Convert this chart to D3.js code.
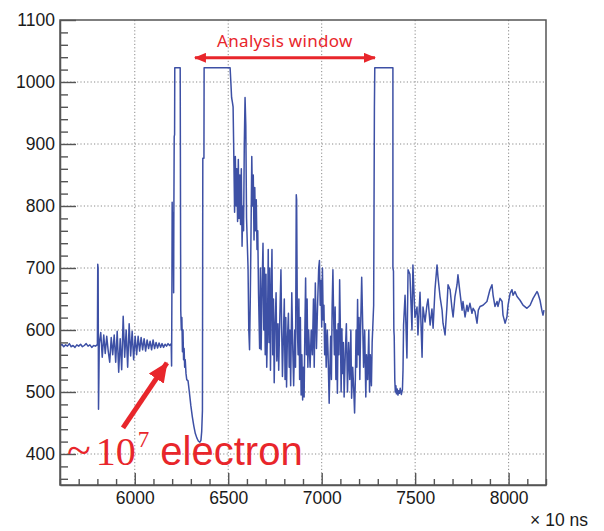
<!DOCTYPE html>
<html>
<head>
<meta charset="utf-8">
<script src="https://cdn.jsdelivr.net/npm/d3@7"></script>
<style>
  body { margin: 0; background: #fff; }
</style>
</head>
<body>
<svg id="chart"></svg>
<script>
// waveform, time in units of 10 ns, amplitude in ADC counts
var baseline = [[5600,574],[5610,577],[5620,573],[5630,576],[5640,574],[5650,578],[5660,573],[5670,575],
  [5680,572],[5690,576],[5700,574],[5710,577],[5720,573],[5730,575],[5740,578],[5750,574],[5760,576],
  [5770,572],[5780,575],[5790,574],[5798,576],[5800,576],[5802,706],[5804,700],[5806,472],[5808,520]];

var preTrigger = [[5810,578],[5818,596],[5826,556],[5834,592],[5842,562],[5850,590],[5858,566],[5866,548],
  [5874,588],[5882,560],[5890,592],[5898,548],[5906,598],[5914,532],[5922,586],[5930,536],[5938,622],
  [5946,556],[5954,600],[5962,540],[5970,610],[5978,558],[5986,598],[5994,552],[6002,590],[6010,560],
  [6018,590],[6026,566],[6034,588],[6042,568],[6050,586],[6058,566],[6066,584],[6074,570],[6082,582],
  [6090,568],[6098,584],[6106,570],[6114,580],[6122,571],[6130,579],[6138,572],[6146,578],[6154,572],
  [6162,577],[6170,574],[6178,578],[6186,575],[6190,576]];

var trigger = [[6195,578],[6197,542],[6199,690],[6200,806],[6202,740],[6203,790],[6205,700],[6206,760],
  [6208,660],[6209,780],[6211,912],[6213,915],[6214,1023],[6243,1023],[6246,632],[6249,600],[6252,620],
  [6255,565],[6258,600],[6261,552],[6264,570],[6267,540],[6270,552],[6274,530],[6278,520],[6285,518],
  [6292,500],[6300,478],[6308,460],[6316,445],[6324,433],[6332,426],[6340,421],[6348,419],[6354,422],
  [6358,436],[6362,470],[6364,877],[6370,877],[6371,1023],[6510,1023]];

var windowPart = [[6514,1000],[6518,975],[6522,968],[6526,960],[6530,880],[6534,790],[6538,880],[6542,800],
  [6546,860],[6550,775],[6554,875],[6558,780],[6562,850],[6566,770],[6570,860],[6574,735],[6578,800],
  [6582,760],[6586,900],[6590,975],[6594,930],[6598,780],[6602,740],[6606,700],[6610,600],[6614,568],
  [6618,650],[6622,760],[6626,880],[6630,800],[6634,850],[6638,745],[6642,830],[6646,760],[6650,810],
  [6654,730],[6658,760],[6662,660],[6668,570],[6672,700],[6676,568],[6680,650],[6686,740],[6690,600],
  [6694,700],[6698,560],[6702,690],[6706,540],[6710,600],[6714,730],[6718,580],[6722,700],[6726,535],
  [6730,660],[6734,730],[6738,560],[6742,650],[6746,515],[6750,600],[6756,660],[6760,550],[6766,610],
  [6770,535],[6776,620],[6782,697],[6786,600],[6790,525],[6796,600],[6800,650],[6804,520],[6808,620],
  [6812,508],[6816,580],[6822,627],[6826,540],[6830,600],[6834,510],[6840,660],[6846,560],[6850,510],
  [6856,600],[6860,540],[6864,818],[6866,810],[6870,600],[6874,560],[6878,650],[6882,520],[6886,620],
  [6890,495],[6894,560],[6898,487],[6902,540],[6906,492],[6910,600],[6914,684],[6918,560],[6922,650],
  [6926,540],[6930,600],[6934,570],[6938,540],[6944,600],[6950,560],[6956,650],[6960,540],[6966,676],
  [6972,570],[6978,640],[6984,700],[6988,712],[6992,640],[6996,680],[7000,605],[7004,700],[7008,616],
  [7012,640],[7016,560],[7020,610],[7024,540],[7030,600],[7034,563],[7040,482],[7044,540],[7048,590],
  [7052,520],[7056,640],[7060,697],[7064,620],[7068,560],[7072,637],[7076,520],[7080,600],[7084,498],
  [7088,610],[7092,560],[7096,681],[7100,600],[7104,500],[7108,602],[7112,530],[7116,580],[7120,492],
  [7126,560],[7132,610],[7138,500],[7144,580],[7150,520],[7156,600],[7160,490],[7166,540],[7172,500],
  [7176,466],[7180,520],[7184,600],[7188,540],[7192,649],[7196,560],[7200,620],[7204,520],[7208,600],
  [7214,685],[7220,600],[7224,540],[7230,600],[7236,492],[7240,560],[7246,520],[7252,600],[7256,500],
  [7260,560],[7266,510],[7270,580],[7274,610],[7278,640],[7282,960],[7284,1023],[7381,1023]];

var tail = [[7381,700],[7384,695],[7386,600],[7388,590],[7391,520],[7394,500],[7397,510],[7400,497],
  [7404,505],[7408,495],[7412,502],[7416,498],[7420,506],[7426,496],[7432,504],[7435,535],[7438,608],
  [7446,656],[7456,555],[7462,697],[7472,690],[7483,600],[7488,705],[7499,620],[7510,637],[7515,592],
  [7526,661],[7537,556],[7542,637],[7553,613],[7563,640],[7569,650],[7580,608],[7590,634],[7596,603],
  [7606,665],[7617,705],[7622,686],[7633,654],[7644,632],[7649,611],[7660,592],[7670,638],[7676,673],
  [7687,665],[7697,635],[7703,621],[7713,654],[7724,673],[7729,689],[7740,660],[7751,632],[7756,646],
  [7767,621],[7777,640],[7783,630],[7793,643],[7804,627],[7810,635],[7820,630],[7831,611],[7838,632],
  [7847,638],[7863,640],[7884,646],[7900,665],[7911,673],[7917,656],[7927,638],[7938,646],[7943,638],
  [7954,651],[7965,646],[7970,624],[7981,611],[7991,621],[7997,640],[8008,659],[8018,665],[8024,656],
  [8034,662],[8045,654],[8061,648],[8077,640],[8098,635],[8115,640],[8131,651],[8152,662],[8157,659],
  [8168,648],[8179,630],[8184,624],[8189,632]];

var xMajor = [6000, 6500, 7000, 7500, 8000];
var yMajor = [400, 500, 600, 700, 800, 900, 1000, 1100];
var xUnit = "\u00d7 10 ns";
var windowLabel = "Analysis window";

var waveform = baseline.concat(preTrigger, trigger, windowPart, tail);

var width = 604, height = 531;
var plot = {left: 60, right: 546, top: 20, bottom: 485};
var font = "'Liberation Sans', Arial, Helvetica, sans-serif";
var serif = "'Liberation Serif', 'Times New Roman', serif";
var red = "#e8262b";

var svg = d3.select("#chart")
  .attr("width", width)
  .attr("height", height);

var x = d3.scaleLinear().domain([5600, 8200]).range([plot.left, plot.right]);
var y = d3.scaleLinear().domain([350, 1100]).range([plot.bottom, plot.top]);

var xMinor = d3.range(5600, 8201, 100).filter(d => xMajor.indexOf(d) < 0);
var yMinor = d3.range(360, 1100, 20).filter(d => d % 100 != 0);

// dotted grid
var grid = svg.append("g").attr("class", "grid")
  .attr("stroke", "#8a8a8a")
  .attr("stroke-width", 1)
  .attr("stroke-dasharray", "1.2,2.2");
grid.selectAll(".gx").data(xMajor).enter().append("line")
  .attr("x1", d => x(d)).attr("x2", d => x(d))
  .attr("y1", plot.top).attr("y2", plot.bottom);
grid.selectAll(".gy").data(yMajor.filter(d => d < 1100)).enter().append("line")
  .attr("x1", plot.left).attr("x2", plot.right)
  .attr("y1", d => y(d)).attr("y2", d => y(d));

// waveform
svg.append("clipPath").attr("id", "clip")
  .append("rect")
  .attr("x", plot.left).attr("y", plot.top)
  .attr("width", plot.right - plot.left).attr("height", plot.bottom - plot.top);

var line = d3.line().x(d => x(d[0])).y(d => y(d[1]));
svg.append("path")
  .datum(waveform)
  .attr("clip-path", "url(#clip)")
  .attr("d", line)
  .attr("fill", "none")
  .attr("stroke", "#3d50a5")
  .attr("stroke-width", 1.5)
  .attr("stroke-linejoin", "round");

// frame
svg.append("rect")
  .attr("x", plot.left).attr("y", plot.top)
  .attr("width", plot.right - plot.left).attr("height", plot.bottom - plot.top)
  .attr("fill", "none")
  .attr("stroke", "#555")
  .attr("stroke-width", 1.5);

// axes, ticks point inside like ROOT
var fmt = d3.format("d");
svg.append("g")
  .attr("transform", "translate(" + plot.left + ",0)")
  .call(d3.axisLeft(y).tickValues(yMajor).tickFormat(fmt).tickSizeInner(-16).tickSizeOuter(0).tickPadding(5));
svg.append("g")
  .attr("transform", "translate(" + plot.left + ",0)")
  .call(d3.axisLeft(y).tickValues(yMinor).tickFormat("").tickSizeInner(-8).tickSizeOuter(0))
  .select(".domain").remove();

svg.append("g")
  .attr("transform", "translate(0," + plot.bottom + ")")
  .call(d3.axisBottom(x).tickValues(xMajor).tickFormat(fmt).tickSizeInner(-12).tickSizeOuter(0).tickPadding(7));
svg.append("g")
  .attr("transform", "translate(0," + plot.bottom + ")")
  .call(d3.axisBottom(x).tickValues(xMinor).tickFormat("").tickSizeInner(-6).tickSizeOuter(0))
  .select(".domain").remove();

svg.selectAll(".tick line").attr("stroke", "#555").attr("stroke-width", 1.4);
svg.selectAll(".domain").attr("stroke", "#555").attr("stroke-width", 1.5);
svg.selectAll(".tick text")
  .attr("font-family", font)
  .attr("font-size", 17.5)
  .attr("fill", "#1a1a1a");

svg.append("text")
  .text(xUnit)
  .attr("x", 588)
  .attr("y", 526)
  .attr("text-anchor", "end")
  .attr("font-family", font)
  .attr("font-size", 17.5)
  .attr("fill", "#1a1a1a");

// annotations
var defs = svg.append("defs");
defs.append("marker")
  .attr("id", "headSmall")
  .attr("markerUnits", "userSpaceOnUse")
  .attr("viewBox", "0 0 12 10")
  .attr("refX", 11).attr("refY", 5)
  .attr("markerWidth", 12).attr("markerHeight", 10)
  .attr("orient", "auto-start-reverse")
  .append("path").attr("d", "M0,0L12,5L0,10Z").attr("fill", red);
defs.append("marker")
  .attr("id", "headBig")
  .attr("markerUnits", "userSpaceOnUse")
  .attr("viewBox", "0 0 20 18")
  .attr("refX", 19).attr("refY", 9)
  .attr("markerWidth", 20).attr("markerHeight", 18)
  .attr("orient", "auto")
  .append("path").attr("d", "M0,0L20,9L0,18Z").attr("fill", red);

svg.append("line")
  .attr("x1", x(6322)).attr("y1", y(1039))
  .attr("x2", x(7285)).attr("y2", y(1039))
  .attr("stroke", red).attr("stroke-width", 3)
  .attr("marker-start", "url(#headSmall)")
  .attr("marker-end", "url(#headSmall)");

svg.append("text")
  .text(windowLabel)
  .attr("x", x(6803))
  .attr("y", y(1057))
  .attr("text-anchor", "middle")
  .attr("font-family", "'Noto Sans', sans-serif")
  .attr("font-size", 17)
  .attr("letter-spacing", 0.3)
  .attr("fill", red);

svg.append("line")
  .attr("x1", x(5937)).attr("y1", y(442))
  .attr("x2", x(6172)).attr("y2", y(547))
  .attr("stroke", red).attr("stroke-width", 5)
  .attr("marker-end", "url(#headBig)");

var note = svg.append("text")
  .attr("x", x(5637))
  .attr("y", y(382))
  .attr("fill", red);
note.append("tspan")
  .text("~")
  .attr("font-family", serif)
  .attr("font-size", 44);
note.append("tspan")
  .text("10")
  .attr("dx", 5)
  .attr("font-family", serif)
  .attr("font-size", 40);
note.append("tspan")
  .text("7")
  .attr("dx", 2)
  .attr("dy", -18)
  .attr("font-family", serif)
  .attr("font-size", 23);
note.append("tspan")
  .text(" electron")
  .attr("dy", 18)
  .attr("font-family", font)
  .attr("font-size", 40);
</script>
</body>
</html>
